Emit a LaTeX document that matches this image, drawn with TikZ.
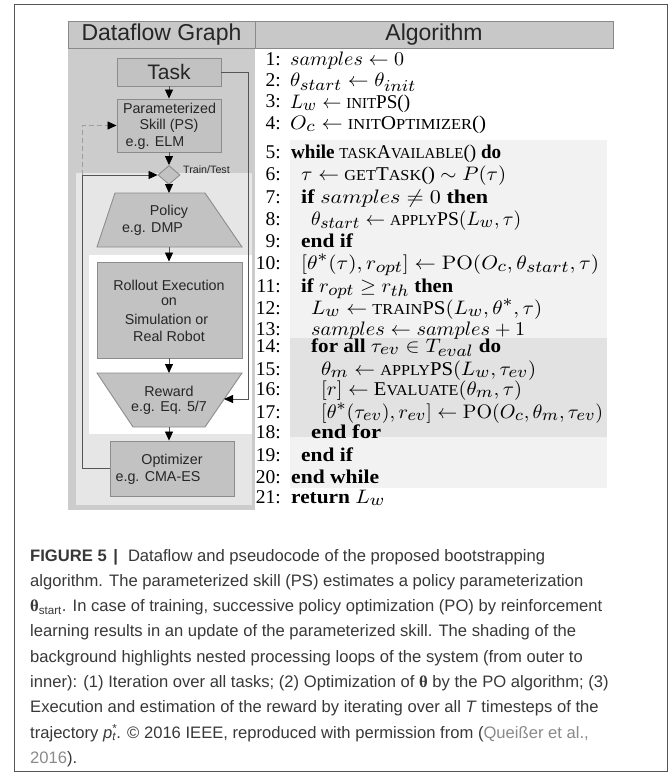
\RequirePackage{fix-cm}
\documentclass[tikz,border=0pt]{standalone}
\usepackage{graphicx}
\usepackage[no-math]{fontspec}
\setmainfont{Liberation Serif}
\setsansfont{Liberation Sans}
\newfontfamily\grk{Liberation Serif}
\usetikzlibrary{arrows.meta,shapes.geometric}
\DeclareMathSizes{10}{10}{8.5}{6.5}
\definecolor{panel}{HTML}{CCCCCC}
\definecolor{lightreg}{HTML}{E6E6E6}
\definecolor{boxfill}{HTML}{C2C2C2}
\definecolor{boxline}{HTML}{8C8C8C}
\definecolor{hdrfill}{HTML}{C8C8C8}
\definecolor{hdrline}{HTML}{8A8A8A}
\definecolor{alglight}{HTML}{F2F2F2}
\definecolor{algdark}{HTML}{E2E2E2}
\definecolor{captxt}{HTML}{383838}
\definecolor{linkc}{HTML}{8A8A8A}
\definecolor{connc}{HTML}{555555}
\definecolor{framec}{HTML}{555555}
\newcommand\algw[2]{\resizebox{#1pt}{1.95\height}{\fontsize{10}{12}\selectfont #2}}
\newcommand\algn[1]{\scalebox{1.95}{\fontsize{10}{12}\selectfont #1}}
\newcommand\capfont{\sffamily\fontsize{16.6}{20}\selectfont}
\newcommand\SC[1]{{\fontsize{7.8}{8}\selectfont\uppercase{#1}}}
\tikzset{
  flowbox/.style={draw=boxline, fill=boxfill, line width=0.9pt, inner sep=0pt},
  conn/.style={draw=connc, line width=0.8pt, -{Triangle[length=9pt,width=8pt,color=black]}},
  dconn/.style={draw=gray!75, line width=0.8pt, dash pattern=on 5pt off 3pt, -{Triangle[length=9pt,width=8pt,color=black]}},
  boxlbl/.style={font=\sffamily\fontsize{14.3}{17}\selectfont, inner sep=0pt, text=black!85},
  hdrbox/.style={draw=hdrline, fill=hdrfill, line width=0.9pt, minimum height=27pt, inner sep=0pt, font=\sffamily\fontsize{23}{25}\selectfont, text=black!85},
  algnum/.style={anchor=base east, inner sep=0pt},
  algcode/.style={anchor=base west, inner sep=0pt},
  captext/.style={anchor=base west, inner sep=0pt, font=\capfont, text=captxt},
}
\begin{document}
\begin{tikzpicture}[x=1pt,y=-1pt]
\useasboundingbox (0,0) rectangle (670,781);
% frame
\draw[framec, line width=1pt] (14,5) rectangle (667,771);
% left panel regions
\fill[panel] (68,48) rectangle (255,510);
\fill[lightreg] (76,173) rectangle (252,505);
\fill[white] (89,255) rectangle (252,434);
% headers
\node[hdrbox, minimum width=187pt] (hdf) at (161.5,34.5) {Dataflow Graph};
\node[hdrbox, minimum width=358pt] (hal) at (434,34.5) {Algorithm};
% algorithm shading
\fill[alglight] (290,140) rectangle (607,488);
\fill[algdark] (290,338) rectangle (607,437);
% boxes
\node[flowbox, minimum width=104pt, minimum height=28pt] (task) at (169,72) {};
\node[flowbox, minimum width=104pt, minimum height=53pt] (ps) at (169,125.5) {};
\node[flowbox, diamond, minimum width=22pt, minimum height=19pt] (dia) at (169,175) {};
\draw[flowbox] (115,193) -- (205,193) -- (242,247) -- (97,247) -- cycle;
\coordinate (poltop) at (169,193);
\coordinate (polbot) at (169,247);
\node[flowbox, minimum width=145pt, minimum height=96pt] (roll) at (169.5,310) {};
\draw[flowbox] (97,373) -- (242,373) -- (205,427) -- (133,427) -- cycle;
\coordinate (rwtop) at (169,373);
\coordinate (rwbot) at (169,427);
\coordinate (rwin) at (224,399);
\node[flowbox, minimum width=124pt, minimum height=55pt] (opt) at (172,468.5) {};
% texts in boxes
\node[boxlbl, font=\sffamily\fontsize{21}{24}\selectfont] (ttask) at (169,72) {Task};
\node[boxlbl] (tps1) at (169.5,108) {Parameterized};
\node[boxlbl] (tps2) at (169,126) {Skill (PS)};
\node[boxlbl] (tps3) at (155,143) {e.g. ELM};
\node[boxlbl, font=\sffamily\fontsize{10.7}{12}\selectfont, anchor=west] (ttt) at (183,170) {Train/Test};
\node[boxlbl] (tpol1) at (169,212) {Policy};
\node[boxlbl] (tpol2) at (152.5,229) {e.g. DMP};
\node[boxlbl] (tro1) at (169,285) {Rollout Execution};
\node[boxlbl] (tro2) at (169,302) {on};
\node[boxlbl] (tro3) at (166.5,319) {Simulation or};
\node[boxlbl] (tro4) at (169,336) {Real Robot};
\node[boxlbl] (trw1) at (169,391) {Reward};
\node[boxlbl] (trw2) at (169,408) {e.g. Eq. 5/7};
\node[boxlbl] (top1) at (172,461) {Optimizer};
\node[boxlbl] (top2) at (158,478) {e.g. CMA-ES};
% connectors
\draw[conn] (task.south) -- (ps.north);
\draw[conn] (ps.south) -- (dia.north);
\draw[conn] (dia.south) -- (poltop);
\draw[conn] (polbot) -- (polbot |- roll.north);
\draw[conn] (roll.south -| rwtop) -- (rwtop);
\draw[conn] (rwbot) -- (rwbot |- opt.north);
\coordinate (fb) at (82,175);
\draw[conn] (opt.west) -| (fb) -- (dia.west);
\draw[dconn] (fb) |- (ps.west);
\draw[conn] (task.east) -- ++(27,0) |- (rwin);
% algorithm
\node[algnum] (n1) at (281,66) {\algn{1:}};
\node[algcode] (c1) at (290,66) {\algw{114}{$samples \leftarrow 0$}};
\node[algnum] (n2) at (281,87) {\algn{2:}};
\node[algcode] (c2) at (290,87) {\algw{126}{$\theta_{start} \leftarrow \theta_{init}$}};
\node[algnum] (n3) at (281,108) {\algn{3:}};
\node[algcode] (c3) at (290,108) {\algw{120}{$L_w \leftarrow$ \SC{init}PS()}};
\node[algnum] (n4) at (281,129) {\algn{4:}};
\node[algcode] (c4) at (290,129) {\algw{196}{$O_c \leftarrow$ \SC{init}O\SC{ptimizer}()}};
\node[algnum] (n5) at (281,158) {\algn{5:}};
\node[algcode] (c5) at (291,158) {\algw{210}{\textbf{while} \SC{task}A\SC{vailable}() \textbf{do}}};
\node[algnum] (n6) at (281,180.5) {\algn{6:}};
\node[algcode] (c6) at (301,180.5) {\algw{205}{$\tau \leftarrow$ \SC{get}T\SC{ask}() $\sim P(\tau)$}};
\node[algnum] (n7) at (281,203) {\algn{7:}};
\node[algcode] (c7) at (301,203) {\algw{187}{\textbf{if} $samples \neq 0$ \textbf{then}}};
\node[algnum] (n8) at (281,225) {\algn{8:}};
\node[algcode] (c8) at (311,225) {\algw{210}{$\theta_{start} \leftarrow$ \SC{apply}PS$(L_w,\tau)$}};
\node[algnum] (n9) at (281,247) {\algn{9:}};
\node[algcode] (c9) at (301,247) {\algw{52}{\textbf{end if}}};
\node[algnum] (n10) at (281,269) {\algn{10:}};
\node[algcode] (c10) at (301,269) {\algw{298}{$[\theta^*(\tau),r_{opt}] \leftarrow \mathrm{PO}(O_c,\theta_{start},\tau)$}};
\node[algnum] (n11) at (281,292) {\algn{11:}};
\node[algcode] (c11) at (301,292) {\algw{152}{\textbf{if} $r_{opt} \geq r_{th}$ \textbf{then}}};
\node[algnum] (n12) at (281,314) {\algn{12:}};
\node[algcode] (c12) at (311,314) {\algw{231}{$L_w \leftarrow$ \SC{train}PS$(L_w,\theta^*,\tau)$}};
\node[algnum] (n13) at (281,335) {\algn{13:}};
\node[algcode] (c13) at (311,335) {\algw{214}{$samples \leftarrow samples + 1$}};
\node[algnum] (n14) at (281,352) {\algn{14:}};
\node[algcode] (c14) at (311,352) {\algw{190}{\textbf{for all} $\tau_{ev} \in T_{eval}$ \textbf{do}}};
\node[algnum] (n15) at (281,375) {\algn{15:}};
\node[algcode] (c15) at (321,375) {\algw{215}{$\theta_m \leftarrow$ \SC{apply}PS$(L_w,\tau_{ev})$}};
\node[algnum] (n16) at (281,395) {\algn{16:}};
\node[algcode] (c16) at (321,395) {\algw{201}{$[r] \leftarrow$ E\SC{valuate}$(\theta_m,\tau)$}};
\node[algnum] (n17) at (281,418) {\algn{17:}};
\node[algcode] (c17) at (321,418) {\algw{282}{$[\theta^*(\tau_{ev}),r_{ev}] \leftarrow \mathrm{PO}(O_c,\theta_m,\tau_{ev})$}};
\node[algnum] (n18) at (281,438) {\algn{18:}};
\node[algcode] (c18) at (311,438) {\algw{70}{\textbf{end for}}};
\node[algnum] (n19) at (281,461) {\algn{19:}};
\node[algcode] (c19) at (301,461) {\algw{52}{\textbf{end if}}};
\node[algnum] (n20) at (281,483) {\algn{20:}};
\node[algcode] (c20) at (291,483) {\algw{88}{\textbf{end while}}};
\node[algnum] (n21) at (281,503) {\algn{21:}};
\node[algcode] (c21) at (291,503) {\algw{94}{\textbf{return} $L_w$}};
% caption
\node[captext] (k1) at (30,561) {\textbf{FIGURE 5}\hspace{0.4em}\textbf{|}\hspace{0.6em}Dataflow and pseudocode of the proposed bootstrapping};
\node[captext] (k2) at (30,586.3) {algorithm. The parameterized skill (PS) estimates a policy parameterization};
\node[captext] (k3) at (30,611.6) {{\grk\bfseries θ}\textsubscript{start}. In case of training, successive policy optimization (PO) by reinforcement};
\node[captext] (k4) at (30,636.9) {learning results in an update of the parameterized skill. The shading of the};
\node[captext] (k5) at (30,662.2) {background highlights nested processing loops of the system (from outer to};
\node[captext] (k6) at (30,687.5) {inner): (1) Iteration over all tasks; (2) Optimization of {\grk\bfseries θ} by the PO algorithm; (3)};
\node[captext] (k7) at (30,712.8) {Execution and estimation of the reward by iterating over all \textit{T} timesteps of the};
\node[captext] (k8) at (30,738.1) {trajectory \textit{p}\rlap{\textsuperscript{*}}\textsubscript{\textit{t}}. © 2016 IEEE, reproduced with permission from ({\color{linkc}Queißer et al.,}};
\node[captext] (k9) at (30,763.4) {{\color{linkc}2016}).};
\end{tikzpicture}
\end{document}
